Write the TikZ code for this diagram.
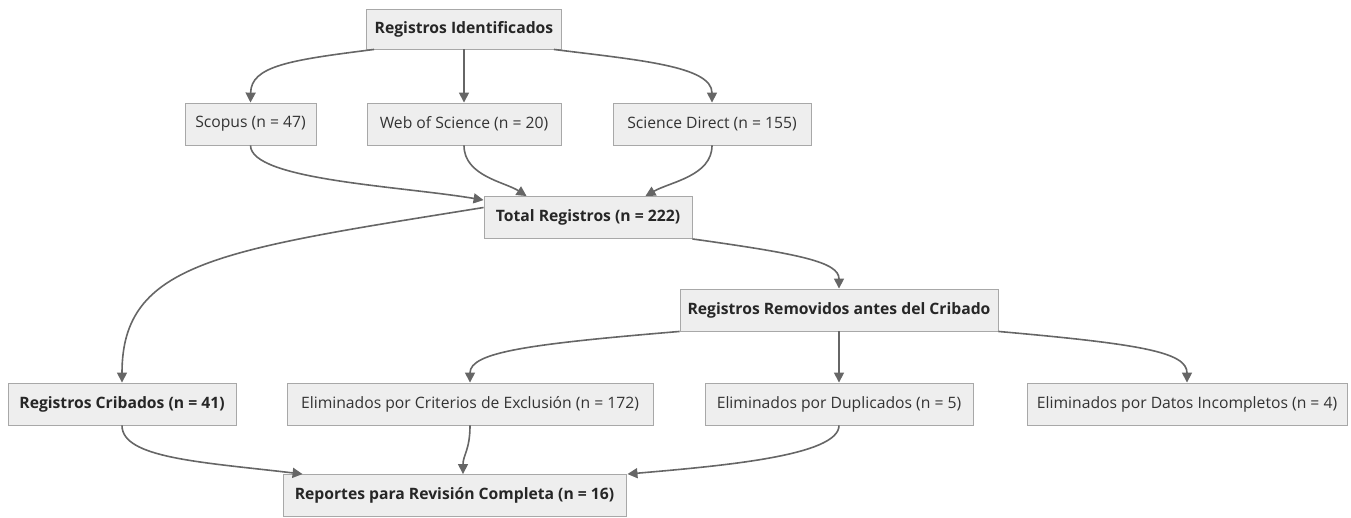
\documentclass[tikz,border=0pt]{standalone}
\usepackage{fontspec}
\setmainfont{Open Sans}
\usetikzlibrary{arrows.meta}
\definecolor{boxfill}{HTML}{EEEEEE}
\definecolor{boxline}{HTML}{A8A8A8}
\definecolor{edgecol}{HTML}{666666}
\definecolor{txt}{HTML}{333333}
\tikzset{
  box/.style={draw=boxline, fill=boxfill, line width=0.9pt, minimum height=42pt, inner sep=0pt, text=txt, font=\fontsize{15.7}{18}\selectfont},
  boldbox/.style={box, text=black!85, font=\fontsize{15.7}{18}\selectfont\bfseries},
  edge/.style={draw=edgecol, line width=1.6pt, -{Triangle[length=10pt,width=10pt]}}
}
\begin{document}
\begin{tikzpicture}[x=1pt,y=-1pt]
\useasboundingbox (0,0) rectangle (1351,517);
\node[boldbox, minimum width=195pt, minimum height=40pt] (RI) at (464,29) {Registros Identificados};
\node[box, minimum width=131pt] (SC) at (250.5,124) {Scopus (n = 47)};
\node[box, minimum width=194pt] (WS) at (464,124) {Web of Science (n = 20)};
\node[box, minimum width=198pt] (SD) at (712,124) {Science Direct (n = 155)};
\node[boldbox, minimum width=208pt] (TR) at (588,217.5) {Total Registros (n = 222)};
\node[boldbox, minimum width=318pt] (RR) at (839,310) {Registros Removidos antes del Cribado};
\node[boldbox, minimum width=228pt] (CR) at (122,404) {Registros Cribados (n = 41)};
\node[box, minimum width=366pt] (CE) at (470,404) {Eliminados por Criterios de Exclusión (n = 172)};
\node[box, minimum width=268pt] (DU) at (839,404) {Eliminados por Duplicados (n = 5)};
\node[box, minimum width=320pt] (DA) at (1187,404) {Eliminados por Datos Incompletos (n = 4)};
\node[boldbox, minimum width=343pt] (RP) at (454.5,495.5) {Reportes para Revisión Completa (n = 16)};

\coordinate (riL) at ([xshift=8pt]RI.south west);
\coordinate (riR) at ([xshift=-8pt]RI.south east);
\draw[edge] (riL) .. controls (290,60) and (251,66) .. (SC.north);
\draw[edge] (RI.south) -- (WS.north);
\draw[edge] (riR) .. controls (638,60) and (712,66) .. (SD.north);

\coordinate (trL) at ([yshift=-4pt]TR.north west);
\coordinate (trA) at ([xshift=43pt]TR.north west);
\coordinate (trB) at ([xshift=-47pt]TR.north east);
\draw[edge] (SC.south) .. controls (251,180) and (400,186) .. (trL);
\draw[edge] (WS.south) .. controls (464,176) and (505,182) .. (trA);
\draw[edge] (SD.south) .. controls (712,176) and (670,182) .. (trB);

\coordinate (trW) at ([yshift=10pt]TR.west);
\draw[edge] (trW) .. controls (220,250) and (122,262) .. (CR.north);
\coordinate (trE) at (TR.south east);
\draw[edge] (trE) .. controls (800,254) and (839,262) .. (RR.north);

\draw[edge] (RR.south west) .. controls (530,344) and (470,352) .. (CE.north);
\draw[edge] (RR.south) -- (DU.north);
\draw[edge] (RR.south east) .. controls (1140,344) and (1187,352) .. (DA.north);

\coordinate (rpA) at ([xshift=20pt]RP.north west);
\coordinate (rpB) at ([xshift=8.5pt]RP.north);
\coordinate (rpC) at ([xshift=1pt]RP.north east);
\draw[edge] (CR.south) .. controls (122,458) and (200,462) .. (rpA);
\draw[edge] (CE.south) .. controls (470,450) and (463,455) .. (rpB);
\draw[edge] (DU.south) .. controls (839,456) and (720,466) .. (rpC);
\end{tikzpicture}
\end{document}
